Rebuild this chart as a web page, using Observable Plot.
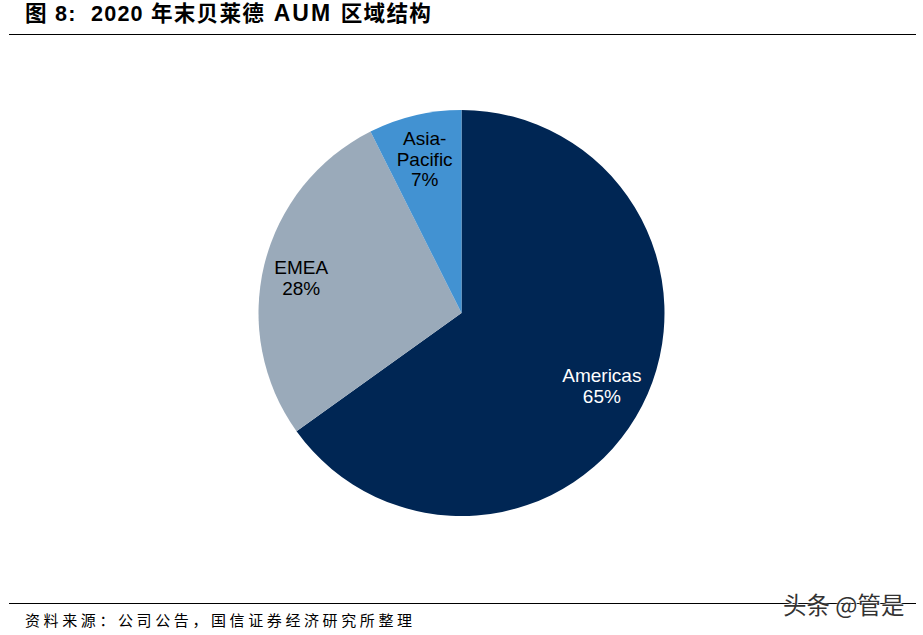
<!DOCTYPE html>
<html><head><meta charset="utf-8">
<script src="https://cdn.jsdelivr.net/npm/d3@7"></script>
<script src="https://cdn.jsdelivr.net/npm/@observablehq/plot@0.6"></script>
<style>
html,body{margin:0;padding:0;background:#fff;width:923px;height:635px;overflow:hidden;position:relative}
#title{height:34px;margin:0 7px 0 9px;border-bottom:1px solid #000;box-sizing:content-box;padding-left:16px;
 font:bold 21.6px/27px "Liberation Sans","Noto Sans CJK SC";letter-spacing:1.2px;color:#000;white-space:pre}
#title span{font-size:23px;letter-spacing:2px;margin:0 1.5px}
#plot{height:556px}
#plot svg{display:block}
#foot{margin:12px 7px 0 9px;border-top:1px solid #000;padding-left:16px;
 font:15px/32px "Noto Sans CJK SC";letter-spacing:3.6px;color:#000;white-space:pre}
#mark{position:absolute;left:783px;top:588px;font:23.5px/32px "Noto Sans CJK SC";color:#333;white-space:pre;
 text-shadow:0 0 2px #fff,1px 1px 1px #fff}
</style></head><body>
<div id="title">图 8:  2020 年末贝莱德 <span>AUM</span> 区域结构</div>
<div id="plot"></div>
<div id="foot">资料来源&#xFF1A;公司公告&#xFF0C;国信证券经济研究所整理</div>
<div id="mark">头条 @管是</div>
<script>
const regions = ["Americas", "EMEA", "Asia-Pacific"];
const shares = [65.1, 27.5, 7.4];
const labels = ["Americas\n65%", "EMEA\n28%", "Asia-\nPacific\n7%"];
const sliceColors = ["#002654", "#9aaaba", "#4292d2"];
const labelColors = ["#fff", "#000", "#000"];

let cum = 0;
const slices = regions.map((region, i) => {
  const start = cum; cum += shares[i];
  return {region, start, end: cum, mid: (start + cum) / 2, label: labels[i], ink: labelColors[i]};
});

const R = 203, labelR = 160;
const nudge = [[-2.5, -1], [-5.5, 2.5], [-0.5, 1]];

function arcs(index, scales, values, dim) {
  const g = d3.create("svg:g").attr("transform", `translate(${dim.width / 2},${dim.height / 2})`);
  const arc = d3.arc().innerRadius(0).outerRadius(R);
  for (const i of index) {
    g.append("path")
      .attr("d", arc({startAngle: values.x1[i], endAngle: values.x2[i]}))
      .attr("fill", values.fill[i]);
  }
  return g.node();
}

function polarText(index, scales, values, dim, ctx, next) {
  const g = next(index, scales, values, dim, ctx);
  const nodes = g.querySelectorAll("text");
  index.forEach((i, k) => {
    const a = values.x[i];
    nodes[k].setAttribute("transform",
      `translate(${dim.width / 2 + labelR * Math.sin(a) + nudge[i][0]},${dim.height / 2 - labelR * Math.cos(a) + nudge[i][1]})`);
  });
  return g;
}

const chart = Plot.plot({
  width: 923, height: 556,
  margin: 0,
  style: {background: "#fff"},
  x: {domain: [0, 100], range: [0, 2 * Math.PI], axis: null},
  color: {domain: regions, range: sliceColors},
  marks: [
    Plot.barX(slices, {x1: "start", x2: "end", fill: "region", render: arcs}),
    Plot.text(slices, {x: "mid", text: "label", fill: "ink", fontSize: 19, lineHeight: 1.1,
      fontFamily: '"Liberation Sans"', render: polarText})
  ]
});
document.getElementById("plot").append(chart);
</script>
</body></html>
